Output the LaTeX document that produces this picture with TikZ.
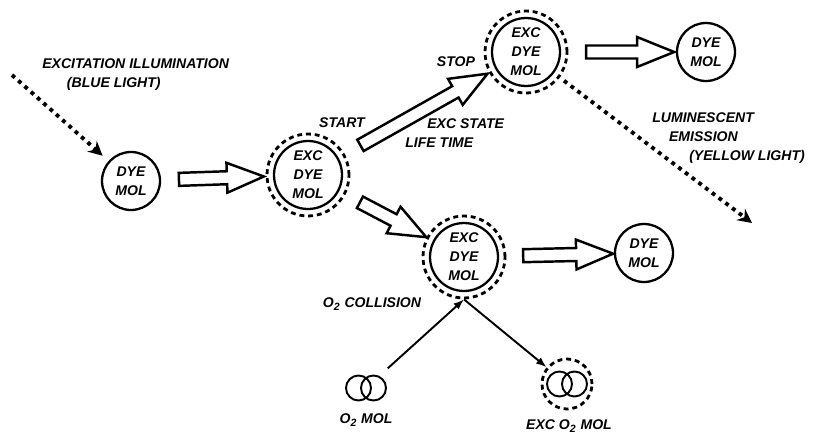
\documentclass[tikz,border=0pt]{standalone}
\usepackage{fontspec}
\setmainfont{Liberation Sans}
\usetikzlibrary{shapes.arrows, arrows.meta, positioning, calc}

\begin{document}
\begin{tikzpicture}[
		x=0.02cm, y=-0.02cm,
		font=\fontsize{8}{10.8}\selectfont\bfseries\itshape,
		mol/.style={draw, circle, line width=1.3pt, minimum size=1.16cm,
			inner sep=0pt, align=center},
		excmol/.style={draw, circle, line width=1.3pt, minimum size=1.36cm,
			inner sep=0pt, align=center},
		halo/.style={draw, circle, line width=1.6pt, dash pattern=on 2.8pt off 2.2pt,
			minimum size=#1, inner sep=0pt},
		halo/.default=1.64cm,
		ring/.style={draw, circle, line width=1.1pt, minimum size=0.5cm, inner sep=0pt},
		bigarr/.style={draw, single arrow, line width=1.4pt, sloped,
			minimum height=#1, inner xsep=0pt, inner ysep=3pt,
			single arrow head extend=4.8pt, single arrow tip angle=44},
		light/.style={line width=2.2pt, dash pattern=on 2.2pt off 2.6pt,
			-{Stealth[length=8pt, width=8pt]}},
		hit/.style={line width=1.1pt, -{Latex[length=6pt, width=4.5pt]}},
		lbl/.style={align=left, inner sep=0pt}
		]
		\useasboundingbox (0,0) rectangle (829,436);
		
		% ── Dye molecules ──
		\node[mol] (dye1) at (131,181) {DYE\\MOL};
		\node[halo] (exc1) at (308,175) {};
		\node[excmol] (exc1c) at (exc1) {EXC\\DYE\\MOL};
		\node[halo] (exc2) at (526,52) {};
		\node[excmol] (exc2c) at (exc2) {EXC\\DYE\\MOL};
		\node[mol] (dye2) at (706,52) {DYE\\MOL};
		\node[halo] (exc3) at (464,257) {};
		\node[excmol] (exc3c) at (exc3) {EXC\\DYE\\MOL};
		\node[mol] (dye3) at (644,253) {DYE\\MOL};
		
		% ── Oxygen molecules ──
		\node[circle, minimum size=0.84cm, inner sep=0pt] (o2) at (366,388) {};
		\node[ring, xshift=-0.15cm] (o2a) at (o2) {};
		\node[ring, xshift=0.15cm] (o2b) at (o2) {};
		\node[halo=1cm] (exco2) at (567,384) {};
		\node[ring, xshift=-0.15cm] (exco2a) at (exco2) {};
		\node[ring, xshift=0.15cm] (exco2b) at (exco2) {};
		
		% ── Block arrows ──
		\path (dye1) -- node[bigarr=1.7cm] (b1) {} (exc1);
		\path (exc1) -- node[bigarr=2.92cm] (b2) {} (exc2);
		\path (exc1) -- node[bigarr=1.5cm] (b3) {} (exc3);
		\path (exc2) -- node[bigarr=1.76cm] (b4) {} (dye2);
		\path (exc3) -- node[bigarr=1.8cm] (b5) {} (dye3);
		
		% ── Light and collision ──
		\coordinate (lamp) at (12,75);
		\coordinate (glow) at (752,223);
		\draw[light, shorten >=4.5pt] (lamp) -- (dye1);
		\draw[light, shorten <=3pt] (exc2) -- (glow);
		\draw[hit, shorten <=4.5pt] (o2) -- (exc3.south);
		\draw[hit] (exc3.south) -- (exco2);
		
		% ── Labels ──
		\node[lbl, anchor=north west] (exclbl) at (42,58) {EXCITATION ILLUMINATION\\\hspace*{14pt}(BLUE LIGHT)};
		\node[lbl, anchor=north west] (emitlbl) at (652,112) {LUMINESCENT\\\hspace*{9.5pt}EMISSION\\\hspace*{21pt}(YELLOW LIGHT)};
		\node[lbl, anchor=north west] (lifelbl) at (405,118) {\hspace*{12.5pt}EXC STATE\\LIFE TIME};
		\node (startlbl) at (342,123) {START};
		\node (stoplbl) at (456,62) {STOP};
		\node (collbl) at (372,304) {O\textsubscript{2} COLLISION};
		\node (o2lbl) at (366,420) {O\textsubscript{2} MOL};
		\node (exco2lbl) at (569,426) {EXC O\textsubscript{2} MOL};
	\end{tikzpicture}
\end{document}
